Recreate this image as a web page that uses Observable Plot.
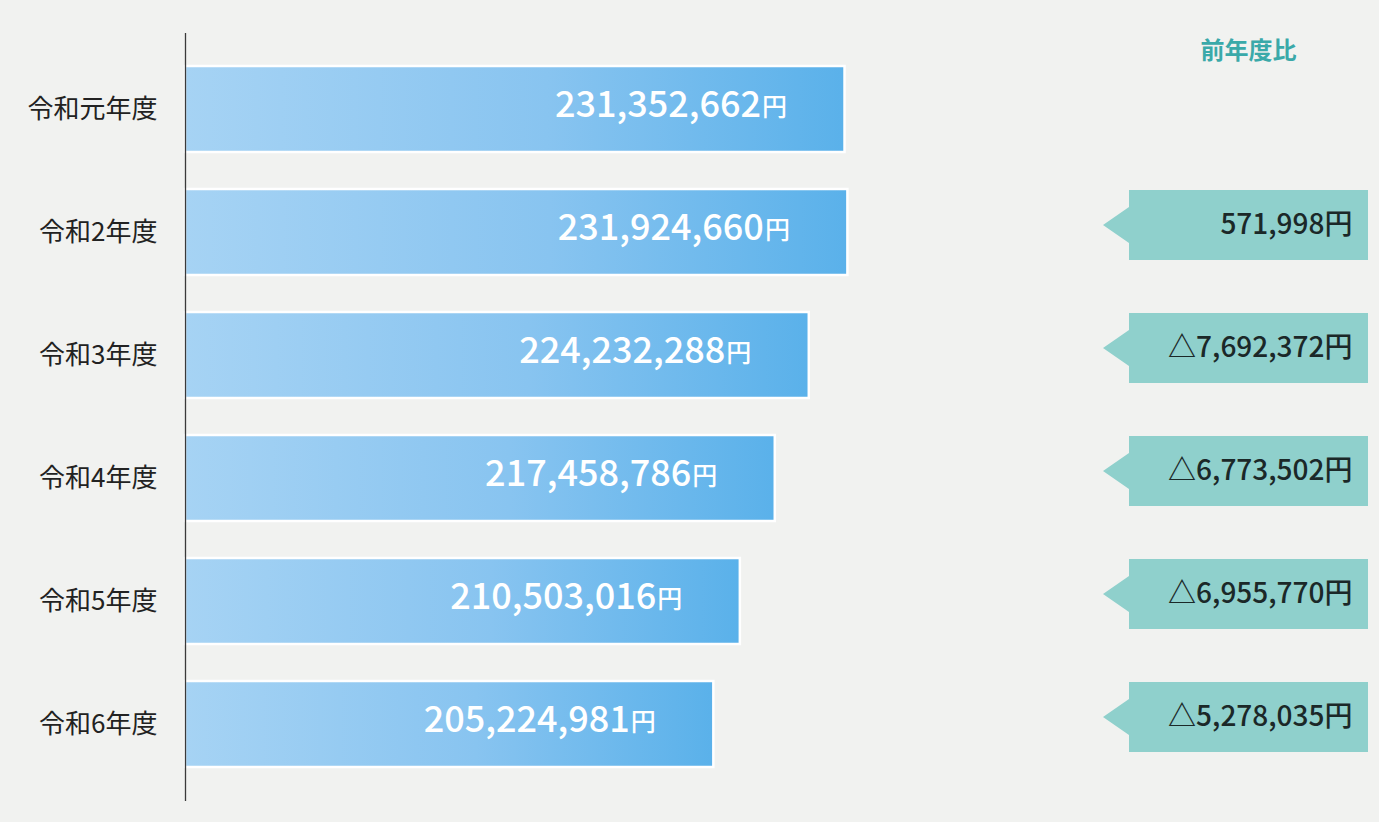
<!DOCTYPE html>
<html><head><meta charset="utf-8">
<script src="https://cdn.jsdelivr.net/npm/d3@7"></script>
<script src="https://cdn.jsdelivr.net/npm/@observablehq/plot@0.6"></script>
<style>
html,body{margin:0;padding:0;background:#f1f2f0;}
#chart{width:1379px;height:822px;}
</style></head><body><div id="chart"></div>
<script>
// ---- data ----
const years = ["令和元年度","令和2年度","令和3年度","令和4年度","令和5年度","令和6年度"];
const amounts = [231352662, 231924660, 224232288, 217458786, 210503016, 205224981];
const diffLabels = [null, "571,998円", "△7,692,372円", "△6,773,502円", "△6,955,770円", "△5,278,035円"];
const headerLabel = "前年度比";
const yenMark = "円";
const baseline = 100e6;
const xMax = 337.8e6;

const rows = years.map((year, i) => ({year, amount: amounts[i], diff: diffLabels[i]}));
const diffRows = rows.filter(d => d.diff);
const fmt = d3.format(",");

const font = "'Noto Sans CJK JP', 'Noto Sans', sans-serif";

// gradient defs
const defsMark = () => {
  const defs = d3.create("svg:defs");
  const g = defs.append("linearGradient").attr("id", "barGrad").attr("x1", "0").attr("x2", "1").attr("y1", "0").attr("y2", "0");
  g.append("stop").attr("offset", "0%").attr("stop-color", "#a6d3f4");
  g.append("stop").attr("offset", "55%").attr("stop-color", "#88c4f0");
  g.append("stop").attr("offset", "100%").attr("stop-color", "#5ab1ea");
  return defs.node();
};

// callout arrows in the right column, vertically placed by the y band scale
const calloutMark = (index, scales, values, dims) => {
  const y = scales.y;
  const bw = typeof y.bandwidth === "function" ? y.bandwidth() : scales.scales.y.bandwidth;
  const g = d3.create("svg:g");
  const right = dims.width - 11, left = dims.width - 250, tip = dims.width - 276;
  for (const d of diffRows) {
    const cy = y(d.year) + bw / 2 - 7;
    const h = 35, t = 18;
    g.append("path")
      .attr("d", `M${left},${cy - h}H${right}V${cy + h}H${left}V${cy + t}L${tip},${cy}L${left},${cy - t}Z`)
      .attr("fill", "#8fd0cc");
  }
  return g.node();
};

const chart = Plot.plot({
  width: 1379,
  height: 822,
  marginLeft: 185,
  marginRight: 0,
  marginTop: 33,
  marginBottom: 21,
  style: {fontFamily: font, background: "transparent", overflow: "visible"},
  x: {domain: [baseline, xMax], axis: null},
  y: {domain: years, paddingInner: 0.3, paddingOuter: 0.25, label: null},
  marks: [
    defsMark,
    Plot.barX(rows, {x1: baseline, x2: "amount", y: "year", fill: "url(#barGrad)", stroke: "white", strokeWidth: 2.5}),
    Plot.ruleX([baseline], {stroke: "#3a3a3a", strokeWidth: 1.3}),
    Plot.axisY({tickSize: 0, tickPadding: 28, fontSize: 26, fill: "#222", label: null}),
    Plot.text(rows, {x: "amount", y: "year", text: d => fmt(d.amount), textAnchor: "end", dx: -84, dy: -4, fill: "white", fontSize: 36, fontWeight: 500}),
    Plot.text(rows, {x: "amount", y: "year", text: () => yenMark, textAnchor: "end", dx: -58, dy: -2, fill: "white", fontSize: 25, fontWeight: 500}),
    calloutMark,
    Plot.text(diffRows, {y: "year", text: "diff", frameAnchor: "right", textAnchor: "end", dx: -27, dy: -7, fontSize: 28, fontWeight: 500, fill: "#1b2828"}),
    Plot.text([headerLabel], {text: d => d, frameAnchor: "top-right", textAnchor: "middle", lineAnchor: "middle", dx: -131, dy: 18, fontSize: 24, fontWeight: 700, fill: "#3aa9a9"})
  ]
});
document.getElementById("chart").appendChild(chart);
</script>
</body></html>
